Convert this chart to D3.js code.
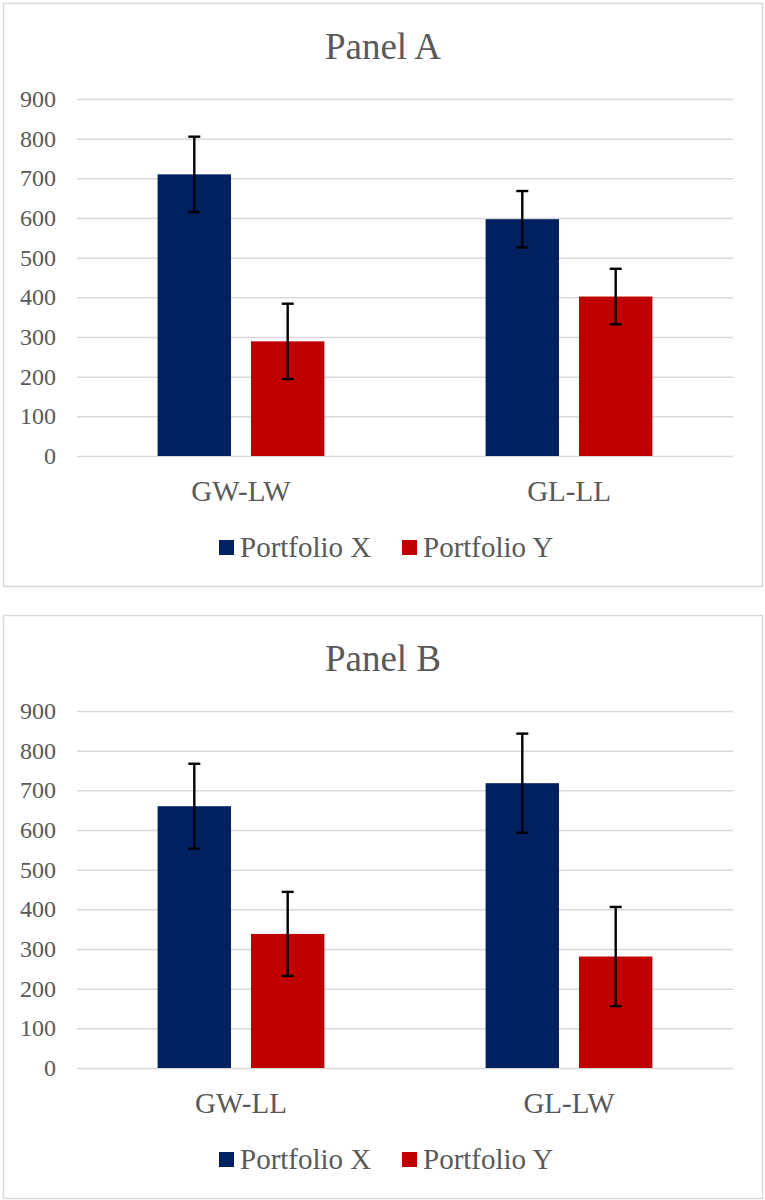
<!DOCTYPE html>
<html>
<head>
<meta charset="utf-8">
<script src="https://cdn.jsdelivr.net/npm/d3@7"></script>
</head>
<body style="margin:0">
<svg id="chart" width="765" height="1200"></svg>
<script>
// values
const seriesNames = ["Portfolio X", "Portfolio Y"];
const seriesColors = ["#002060", "#C00000"];
const yTicks = [0, 100, 200, 300, 400, 500, 600, 700, 800, 900];

const titleA = "Panel A";
const categoriesA = ["GW-LW", "GL-LL"];
const portfolioXA = [710, 597];
const errorXA = [95, 71];
const portfolioYA = [289, 402];
const errorYA = [95, 70];

const titleB = "Panel B";
const categoriesB = ["GW-LL", "GL-LW"];
const portfolioXB = [660, 718];
const errorXB = [107, 125];
const portfolioYB = [338, 281];
const errorYB = [106, 125];

const FONT = "Liberation Serif";
const TEXT_COLOR = "#595959";

const svg = d3.select("#chart");

// all texts go straight onto the svg root, positioned in page coords
function label(x, y, str, size, anchor) {
  return svg.append("text")
    .attr("x", x)
    .attr("y", y)
    .attr("font-size", size)
    .attr("font-family", FONT)
    .attr("fill", TEXT_COLOR)
    .attr("text-anchor", anchor)
    .text(str);
}

function drawPanel(top, title, categories, xVals, xErr, yVals, yErr) {
  // frame
  svg.append("rect")
    .attr("x", 3.5).attr("y", top + 3.5)
    .attr("width", 759).attr("height", 583)
    .attr("fill", "#fff")
    .attr("stroke", "#d9d9d9")
    .attr("stroke-width", 1.5);

  const plot = { left: 77, right: 733, top: top + 99, bottom: top + 456 };

  const x0 = d3.scaleBand()
    .domain(categories)
    .range([plot.left, plot.right])
    .padding(0);

  const x1 = d3.scaleBand()
    .domain(seriesNames)
    .range([0, x0.bandwidth()])
    .paddingInner(0.214)
    .paddingOuter(0.863);

  const y = d3.scaleLinear()
    .domain([0, 900])
    .range([plot.bottom, plot.top]);

  // gridlines from the axis generator
  const grid = svg.append("g")
    .attr("transform", `translate(${plot.left},0)`)
    .call(d3.axisLeft(y).tickValues(yTicks).tickSize(-(plot.right - plot.left)).tickFormat(""));
  grid.select(".domain").remove();
  grid.selectAll("line").attr("stroke", "#d9d9d9").attr("stroke-width", 1.5);
  grid.selectAll("text").remove();

  // tick labels
  yTicks.forEach(t => label(plot.left - 21, y(t) + 8, t, 24, "end"));

  // category labels
  categories.forEach(c => label(x0(c) + x0.bandwidth() / 2, plot.bottom + 45, c, 29, "middle"));

  const rows = categories.map((c, i) => ({
    cat: c,
    values: [
      { s: seriesNames[0], v: xVals[i], e: xErr[i], color: seriesColors[0] },
      { s: seriesNames[1], v: yVals[i], e: yErr[i], color: seriesColors[1] }
    ]
  }));

  const groups = svg.append("g")
    .selectAll("g")
    .data(rows)
    .join("g")
    .attr("transform", d => `translate(${x0(d.cat)},0)`);

  groups.selectAll("rect")
    .data(d => d.values)
    .join("rect")
    .attr("x", d => x1(d.s))
    .attr("y", d => y(d.v))
    .attr("width", x1.bandwidth())
    .attr("height", d => y(0) - y(d.v))
    .attr("fill", d => d.color);

  // error bars
  const cap = 6;
  const cx = d => x1(d.s) + x1.bandwidth() / 2;
  const eb = groups.selectAll(".err")
    .data(d => d.values)
    .join("g")
    .attr("class", "err")
    .attr("stroke", "#000")
    .attr("stroke-width", 2.4);
  eb.append("line")
    .attr("x1", cx).attr("x2", cx)
    .attr("y1", d => y(d.v + d.e))
    .attr("y2", d => y(d.v - d.e));
  eb.append("line")
    .attr("x1", d => cx(d) - cap).attr("x2", d => cx(d) + cap)
    .attr("y1", d => y(d.v + d.e))
    .attr("y2", d => y(d.v + d.e));
  eb.append("line")
    .attr("x1", d => cx(d) - cap).attr("x2", d => cx(d) + cap)
    .attr("y1", d => y(d.v - d.e))
    .attr("y2", d => y(d.v - d.e));

  // title
  label(383, top + 59, title, 37, "middle");

  // legend
  const legendX = [219, 402];
  seriesNames.forEach((s, i) => {
    svg.append("rect")
      .attr("x", legendX[i])
      .attr("y", top + 540)
      .attr("width", 15)
      .attr("height", 15)
      .attr("fill", seriesColors[i]);
    label(legendX[i] + 21, top + 556.5, s, 29, "start");
  });
}

drawPanel(0, titleA, categoriesA, portfolioXA, errorXA, portfolioYA, errorYA);
drawPanel(612, titleB, categoriesB, portfolioXB, errorXB, portfolioYB, errorYB);
</script>
</body>
</html>
